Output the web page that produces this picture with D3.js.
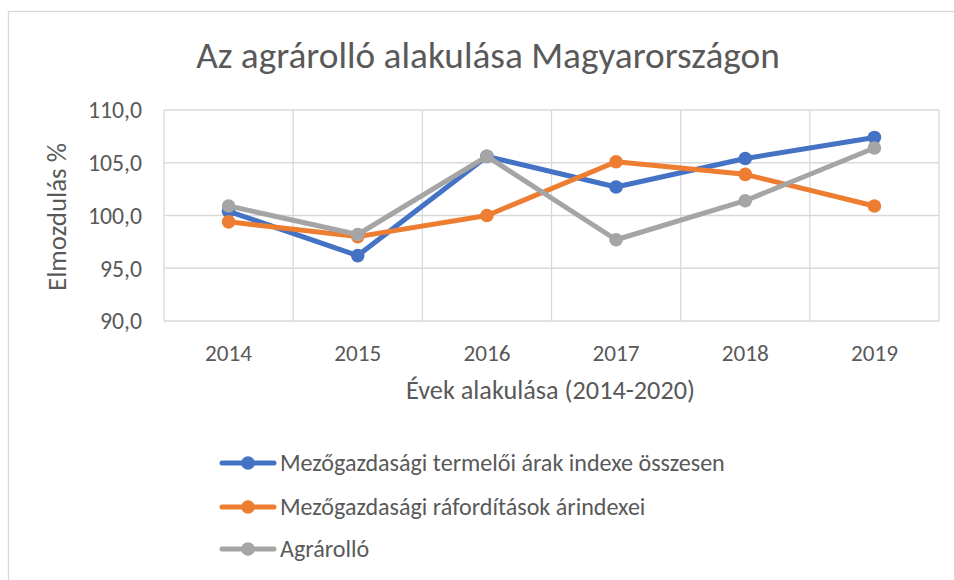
<!DOCTYPE html>
<html>
<head>
<meta charset="utf-8">
<script src="https://cdn.jsdelivr.net/npm/d3@7"></script>
<style>
html,body{margin:0;padding:0;background:#fff;}
svg{display:block;}
text{font-family:Carlito, Calibri, "Open Sans", sans-serif; fill:#595959;}
</style>
</head>
<body>
<svg id="chart" width="954" height="580"></svg>
<script>
const title = "Az agrárolló alakulása Magyarországon";
const years = ["2014","2015","2016","2017","2018","2019"];
const termeloi = [100.4, 96.2, 105.6, 102.7, 105.4, 107.4];
const raforditas = [99.4, 98.0, 100.0, 105.1, 103.9, 100.9];
const agrarollo = [100.9, 98.2, 105.6, 97.7, 101.4, 106.4];
const seriesNames = ["Mezőgazdasági termelői árak indexe összesen","Mezőgazdasági ráfordítások árindexei","Agrárolló"];
const seriesColors = ["#4472C4","#ED7D31","#A5A5A5"];
const yTicks = [90,95,100,105,110];
const yTitle = "Elmozdulás %";
const xTitle = "Évek alakulása (2014-2020)";

const svg = d3.select("#chart");
const pL = 164, pR = 939, pT = 110, pB = 321;

// fit helper: scale font-size so text width matches target
function fit(sel, target){
  const base = 20;
  sel.attr("font-size", base);
  const w = sel.node().getComputedTextLength();
  const fs = base * target / w;
  sel.attr("font-size", fs);
  return fs;
}

// chart border
svg.append("rect").attr("x",8.5).attr("y",11.5).attr("width",960).attr("height",600)
  .attr("fill","none").attr("stroke","#D9D9D9").attr("stroke-width",1.3);

const x = d3.scaleBand().domain(years).range([pL,pR]);
const y = d3.scaleLinear().domain([90,110]).range([pB,pT]);

// gridlines
const g = svg.append("g");
g.selectAll("line.h").data(yTicks).join("line")
  .attr("x1",pL).attr("x2",pR)
  .attr("y1",d=>y(d)).attr("y2",d=>y(d))
  .attr("stroke","#D9D9D9").attr("stroke-width",1.3);
const vlines = years.map(d=>x(d)).concat([pR]);
g.selectAll("line.v").data(vlines).join("line")
  .attr("x1",d=>d).attr("x2",d=>d)
  .attr("y1",pT).attr("y2",pB)
  .attr("stroke","#D9D9D9").attr("stroke-width",1.3);

// y tick labels
const fmt = d => d3.format(".1f")(d).replace(".",",");
const probe = svg.append("text").text(fmt(110));
const yfs = fit(probe, 54); probe.remove();
svg.append("g").selectAll("text").data(yTicks).join("text")
  .attr("x",142).attr("y",d=>y(d)).attr("dy","0.35em")
  .attr("text-anchor","end").attr("font-size",yfs).text(fmt);

// x tick labels
const probe2 = svg.append("text").text("2014");
const xfs = fit(probe2, 47); probe2.remove();
svg.append("g").selectAll("text").data(years).join("text")
  .attr("x",d=>x(d)+x.bandwidth()/2).attr("y",361)
  .attr("text-anchor","middle").attr("font-size",xfs).text(d=>d);

// axis titles
const xt = svg.append("text").text(xTitle).attr("x",550.5).attr("y",399).attr("text-anchor","middle");
fit(xt, 289);
const yt = svg.append("text").text(yTitle).attr("transform","translate(66,217) rotate(-90)").attr("text-anchor","middle");
fit(yt, 148);

// title
const tt = svg.append("text").text(title).attr("x",488).attr("y",68).attr("text-anchor","middle");
fit(tt, 584);

// series
const allSeries = [termeloi, raforditas, agrarollo];
const line = d3.line().x((d,i)=>x(years[i])+x.bandwidth()/2).y(d=>y(d));
allSeries.forEach((s,k)=>{
  const sg = svg.append("g");
  sg.append("path").datum(s).attr("d",line).attr("fill","none")
    .attr("stroke",seriesColors[k]).attr("stroke-width",5).attr("stroke-linejoin","round").attr("stroke-linecap","round");
  sg.selectAll("circle").data(s).join("circle")
    .attr("cx",(d,i)=>x(years[i])+x.bandwidth()/2).attr("cy",d=>y(d)).attr("r",6.8)
    .attr("fill",seriesColors[k]);
});

// legend
const legendY = [463, 507, 549];
const lg = svg.append("g");
const lt0 = lg.append("text").text(seriesNames[0]);
const lfs = fit(lt0, 445); lt0.remove();
seriesNames.forEach((n,k)=>{
  const row = lg.append("g");
  row.append("line").attr("x1",222).attr("x2",274).attr("y1",legendY[k]).attr("y2",legendY[k])
    .attr("stroke",seriesColors[k]).attr("stroke-width",5).attr("stroke-linecap","round");
  row.append("circle").attr("cx",248).attr("cy",legendY[k]).attr("r",6.8).attr("fill",seriesColors[k]);
  row.append("text").attr("x",280).attr("y",legendY[k]).attr("dy","0.35em")
    .attr("font-size",lfs).text(n);
});
</script>
</body>
</html>
